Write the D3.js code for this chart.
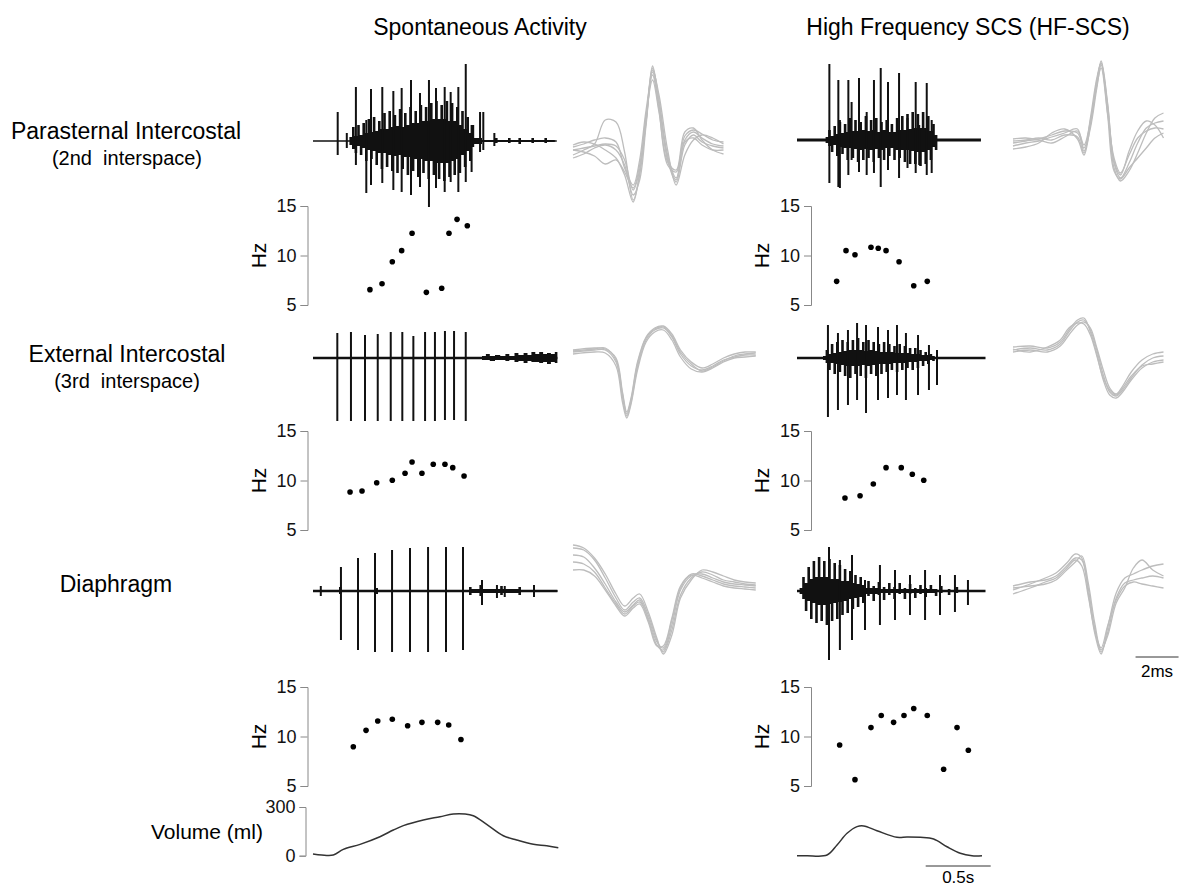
<!DOCTYPE html>
<html>
<head>
<meta charset="utf-8">
<script src="https://cdn.jsdelivr.net/npm/d3@7"></script>
<style>
  body { margin: 0; background: #fff; }
  svg { font-family: "Liberation Sans", Arial, sans-serif; }
</style>
</head>
<body>
<svg id="fig" width="1186" height="888"></svg>
<script>
// ---- data ----
// EMG: time in s, amplitude in a.u. (up / down from baseline)
const psSpontSpikes = [[0.19,29,-14],[0.26,8,-7],[0.33,54,-24],[0.41,21,-52],[0.446,52,-44],[0.533,54,-42],[0.618,50,-49],[0.682,53,-51],[0.754,61,-54],[0.823,48,-46],[0.892,61,-66],[0.946,53,-47],[1.013,54,-51],[1.059,49,-41],[1.118,54,-51],[1.175,77,-41],[1.22,16,-31],[1.285,29,-11],[1.31,29,-9],[1.395,8,-5]];
const psSpontBurst = [[0.28,4,-4],[0.30,14,-8],[0.32,5,-12],[0.34,16,-5],[0.36,6,-14],[0.38,18,-7],[0.40,8,-20],[0.42,22,-9],[0.44,9,-18],[0.46,24,-10],[0.48,10,-24],[0.50,20,-12],[0.52,12,-28],[0.54,28,-12],[0.56,12,-26],[0.58,30,-14],[0.60,14,-30],[0.62,26,-15],[0.64,15,-32],[0.66,32,-14],[0.68,14,-28],[0.70,28,-16],[0.72,16,-34],[0.74,34,-16],[0.76,18,-30],[0.78,30,-18],[0.80,18,-36],[0.82,36,-18],[0.84,20,-32],[0.86,34,-20],[0.88,20,-38],[0.90,38,-20],[0.92,22,-34],[0.94,40,-22],[0.96,22,-38],[0.98,36,-22],[1.00,22,-40],[1.02,40,-22],[1.04,20,-36],[1.06,38,-20],[1.08,20,-34],[1.10,34,-18],[1.12,16,-32],[1.14,30,-14],[1.16,12,-26],[1.18,24,-10],[1.20,8,-20],[1.22,16,-6],[1.24,3,-3],[1.30,1,-1],[1.40,3,-2],[1.42,1,-1],[1.50,3,-2],[1.52,1,-1],[1.58,3,-3],[1.60,1,-1],[1.68,3,-2],[1.70,1,-1],[1.78,3,-2],[1.80,1,-1],[1.86,1,-1]];
const psHfSpikes = [[0.249,76,-43],[0.318,60,-47],[0.33,20,-48],[0.395,60,-35],[0.42,38,-20],[0.477,62,-32],[0.536,28,-35],[0.592,60,-33],[0.644,72,-47],[0.70,58,-30],[0.785,67,-38],[0.85,22,-28],[0.913,58,-33],[0.94,15,-25],[0.998,57,-35],[1.036,20,-33]];
const psHfBurst = [[0.22,3,-3],[0.24,10,-6],[0.26,4,-12],[0.28,14,-5],[0.30,6,-16],[0.32,18,-7],[0.34,7,-14],[0.36,16,-8],[0.38,8,-20],[0.40,22,-8],[0.42,9,-18],[0.44,20,-9],[0.46,9,-22],[0.48,18,-10],[0.50,10,-20],[0.52,24,-9],[0.54,9,-18],[0.56,20,-10],[0.58,10,-22],[0.60,22,-9],[0.62,8,-18],[0.64,18,-10],[0.66,10,-20],[0.68,20,-8],[0.70,8,-16],[0.72,16,-8],[0.74,8,-20],[0.76,22,-10],[0.78,10,-18],[0.80,24,-10],[0.82,10,-22],[0.84,26,-10],[0.86,11,-24],[0.88,28,-11],[0.90,12,-24],[0.92,26,-12],[0.94,12,-26],[0.96,28,-12],[0.98,12,-24],[1.00,24,-10],[1.02,9,-20],[1.04,16,-7],[1.06,5,-10],[1.08,3,-3]];

const eiSpontSpikes = [[0.187,25,-63],[0.292,26,-63],[0.40,23,-63],[0.498,24,-63],[0.598,26,-63],[0.687,26,-63],[0.772,22,-63],[0.862,26,-63],[0.938,26,-63],[1.015,27,-62],[1.085,27,-62],[1.175,26,-63]];
const eiSpontBurst = [[0.02,1,-1],[1.30,2,-2],[1.33,4,-2],[1.36,2,-3],[1.40,3,-2],[1.44,2,-2],[1.48,4,-3],[1.51,2,-2],[1.55,5,-4],[1.58,3,-3],[1.62,5,-5],[1.65,3,-3],[1.68,6,-4],[1.71,4,-4],[1.74,6,-5],[1.77,4,-4],[1.80,5,-6],[1.83,4,-4],[1.86,6,-5],[1.88,2,-2]];
const eiHfSpikes = [[0.238,33,-59],[0.315,25,-52],[0.392,28,-47],[0.462,35,-42],[0.531,33,-55],[0.623,31,-42],[0.70,28,-40],[0.769,33,-37],[0.838,25,-42],[0.931,23,-37],[1.015,13,-32],[1.077,8,-27]];
const eiHfBurst = [[0.20,2,-2],[0.22,8,-5],[0.24,4,-12],[0.26,14,-5],[0.28,5,-16],[0.30,16,-6],[0.32,6,-14],[0.34,18,-7],[0.36,7,-18],[0.38,16,-8],[0.40,8,-20],[0.42,18,-8],[0.44,8,-16],[0.46,20,-8],[0.48,8,-18],[0.50,16,-7],[0.52,7,-20],[0.54,18,-8],[0.56,8,-16],[0.58,16,-7],[0.60,7,-18],[0.62,14,-6],[0.64,6,-16],[0.66,16,-6],[0.68,6,-14],[0.70,14,-6],[0.72,6,-12],[0.74,12,-5],[0.76,5,-14],[0.78,14,-5],[0.80,5,-12],[0.82,12,-5],[0.84,5,-10],[0.86,10,-4],[0.88,4,-12],[0.90,10,-4],[0.92,4,-10],[0.94,8,-3],[0.96,3,-8],[0.98,6,-3],[1.00,3,-6],[1.02,4,-2],[1.04,2,-3],[1.06,2,-2]];

const diSpontSpikes = [[0.06,5,-5],[0.215,24,-49],[0.346,33,-59],[0.477,38,-61],[0.608,41,-61],[0.746,43,-61],[0.885,44,-61],[1.023,44,-61],[1.154,44,-59],[1.30,11,-14],[1.415,6,-7],[1.475,5,-6],[1.70,6,-6]];
const diSpontBurst = [[0.10,1,-1],[0.20,4,-3],[0.22,1,-1],[0.48,3,-3],[0.50,1,-1],[1.20,4,-4],[1.22,2,-2],[1.28,6,-5],[1.30,2,-2],[1.44,5,-4],[1.46,2,-2],[1.58,4,-4],[1.60,1,-1],[1.88,1,-1]];
const diHfSpikes = [[0.246,44,-69],[0.33,31,-59],[0.423,36,-49],[0.523,11,-39],[0.638,26,-34],[0.754,21,-29],[0.869,16,-24],[0.985,21,-29],[1.10,16,-24],[1.215,16,-21],[1.315,11,-14]];
const diHfBurst = [[0.02,3,-3],[0.04,14,-8],[0.06,8,-20],[0.08,24,-10],[0.10,12,-28],[0.12,30,-12],[0.14,14,-32],[0.16,34,-14],[0.18,14,-30],[0.20,30,-14],[0.22,14,-34],[0.24,32,-13],[0.26,12,-30],[0.28,28,-12],[0.30,12,-28],[0.32,26,-11],[0.34,10,-24],[0.36,22,-10],[0.38,10,-22],[0.40,20,-8],[0.42,8,-18],[0.44,16,-7],[0.46,7,-16],[0.48,14,-6],[0.50,6,-12],[0.52,3,-3],[0.54,10,-5],[0.56,3,-3],[0.58,5,-10],[0.60,3,-3],[0.62,9,-4],[0.64,2,-2],[0.66,4,-9],[0.68,2,-2],[0.70,8,-4],[0.72,2,-2],[0.74,4,-8],[0.76,2,-2],[0.78,8,-3],[0.80,2,-2],[0.82,3,-8],[0.84,2,-2],[0.86,7,-3],[0.88,2,-2],[0.90,3,-7],[0.92,2,-2],[0.94,6,-3],[0.96,2,-2],[0.98,3,-6],[1.00,2,-2],[1.02,6,-2],[1.04,2,-2],[1.06,2,-5],[1.08,1,-1],[1.10,5,-2],[1.12,1,-1],[1.16,2,-4],[1.18,1,-1],[1.22,4,-2],[1.24,1,-1],[1.30,1,-1]];

// instantaneous firing frequency (s, Hz)
const psSpontHz = [[0.438,6.55],[0.531,7.15],[0.61,9.37],[0.682,10.49],[0.762,12.24],[0.872,6.28],[0.99,6.69],[1.046,12.24],[1.108,13.65],[1.187,13.0]];
const psHfHz = [[0.305,7.39],[0.377,10.49],[0.446,10.08],[0.569,10.83],[0.625,10.73],[0.685,10.49],[0.785,9.37],[0.898,6.95],[1.002,7.39]];
const eiSpontHz = [[0.285,8.84],[0.377,8.94],[0.49,9.78],[0.61,10.02],[0.708,10.73],[0.762,11.87],[0.838,10.73],[0.925,11.64],[1.015,11.64],[1.075,11.3],[1.162,10.45]];
const eiHfHz = [[0.369,8.23],[0.485,8.46],[0.587,9.65],[0.685,11.3],[0.802,11.3],[0.887,10.63],[0.975,10.02]];
const diSpontHz = [[0.31,8.97],[0.408,10.62],[0.498,11.57],[0.61,11.74],[0.728,11.09],[0.838,11.43],[0.959,11.43],[1.044,11.16],[1.138,9.7]];
const diHfHz = [[0.328,9.14],[0.446,5.64],[0.569,10.9],[0.648,12.12],[0.743,11.43],[0.823,12.12],[0.898,12.83],[1.002,12.12],[1.128,6.69],[1.231,10.9],[1.318,8.61]];

// lung volume (s, ml)
const volSpont = [[0,10],[0.067,4],[0.156,4],[0.233,39],[0.362,70],[0.515,117],[0.618,158],[0.695,185],[0.849,220],[0.977,240],[1.079,257],[1.169,257],[1.233,246],[1.336,193],[1.464,123],[1.567,97],[1.695,70],[1.798,62],[1.887,49]];
const volHf = [[0,0],[0.077,0],[0.231,4],[0.308,66],[0.385,138],[0.462,179],[0.513,183],[0.615,154],[0.769,113],[0.846,115],[0.949,113],[1.051,103],[1.154,55],[1.256,15],[1.346,0],[1.423,0]];

// superimposed motor unit waveforms (ms, a.u.)
const wfPsSpontMs = [0,0.5,1,1.5,2,2.4,2.8,3.1,3.4,3.7,4.0,4.4,4.8,5.2,5.6,6.0,6.5,7.0];
const wfPsSpont = [
  [0,2,4,6,4,-10,-40,-20,30,82,50,-5,-28,10,18,12,6,4],
  [-5,0,6,30,28,-2,-50,-25,28,78,45,-10,-32,5,15,8,4,2],
  [3,6,10,12,8,-18,-35,-10,40,75,40,-15,-22,14,20,16,10,8],
  [-8,-4,2,5,0,-15,-45,-30,25,80,55,0,-35,-5,10,15,12,6],
  [5,8,6,0,-8,-25,-52,-22,35,70,38,-12,-20,18,22,10,0,-4],
  [0,-2,-6,-14,-10,-22,-38,-15,30,84,48,-8,-30,8,12,5,0,0]];
const wfPsHfMs = [0,0.6,1.2,1.8,2.4,3.0,3.3,3.6,3.9,4.1,4.4,4.7,5.0,5.4,5.8,6.2,6.6,7.0];
const wfPsHf = [
  [0,2,4,8,12,10,-5,20,60,82,40,-20,-35,-20,0,15,20,22],
  [-3,0,2,6,10,14,-8,15,55,78,35,-25,-38,-28,-10,10,25,30],
  [2,3,5,3,8,6,-10,25,65,80,30,-15,-30,-12,5,12,15,14],
  [-6,-4,0,10,14,4,-12,18,58,75,28,-28,-36,-25,-15,-5,5,10],
  [4,5,3,0,6,12,-2,22,62,80,38,-18,-32,-8,12,22,18,5]];
const wfEiSpontMs = [0,1,1.5,2.0,2.3,2.5,2.7,3.0,3.4,3.8,4.2,4.6,5.0,5.5,6.0,6.5,7.0,7.5,8.0,8.5];
const wfEiSpont = [
  [0,2,2,-10,-45,-64,-50,-15,12,22,24,15,-2,-14,-18,-14,-8,-5,-3,-3],
  [2,4,3,-6,-40,-60,-46,-10,15,24,26,18,2,-10,-16,-12,-6,-2,0,0],
  [-2,0,-1,-14,-50,-66,-52,-18,10,20,22,12,-5,-17,-20,-16,-10,-6,-5,-4],
  [1,3,4,-8,-42,-62,-48,-12,14,23,25,16,0,-12,-19,-15,-9,-4,-2,-1]];
const wfEiHfMs = [0,0.8,1.6,2.2,2.6,3.0,3.3,3.6,3.9,4.2,4.5,4.8,5.1,5.5,6.0,6.5,7.0];
const wfEiHf = [
  [0,2,0,6,18,28,30,20,0,-25,-42,-46,-40,-28,-15,-8,-6],
  [3,4,2,8,20,30,32,18,-4,-30,-45,-48,-42,-30,-18,-12,-10],
  [-2,0,-2,4,15,25,28,22,2,-20,-38,-44,-36,-22,-10,-4,-2],
  [1,-2,3,10,22,27,26,15,-6,-28,-40,-45,-38,-26,-16,-14,-12]];
const wfDiSpontMs = [0,0.5,1.0,1.5,2.0,2.4,2.8,3.1,3.5,3.9,4.2,4.6,5.0,5.5,6.0,6.5,7.0,7.5,8.0,8.5];
const wfDiSpont = [
  [42,40,30,12,-8,-20,-12,-8,-25,-50,-62,-40,-5,12,18,15,10,8,6,5],
  [35,33,22,6,-12,-22,-15,-10,-30,-55,-60,-35,0,14,16,12,8,6,5,4],
  [28,26,18,2,-14,-24,-16,-12,-28,-52,-58,-30,2,16,14,10,6,4,3,2],
  [45,42,32,16,-4,-16,-8,-4,-22,-48,-64,-45,-8,10,20,18,14,10,8,7],
  [20,20,14,0,-16,-26,-18,-14,-32,-56,-56,-28,4,15,12,8,4,2,1,0]];
const wfDiHfMs = [0,0.8,1.5,2.0,2.5,2.9,3.2,3.5,3.8,4.1,4.4,4.8,5.2,5.6,6.0,6.5,7.0];
const wfDiHf = [
  [-2,4,10,15,25,34,30,0,-40,-64,-45,-10,5,8,10,12,10],
  [2,6,8,12,22,30,28,-5,-45,-66,-40,-5,10,14,18,22,24],
  [-6,0,6,10,20,28,22,-8,-42,-60,-38,-12,2,6,4,2,0],
  [0,2,4,8,18,26,32,5,-35,-62,-48,-15,0,20,28,18,12]];

const hzTicks = [5, 10, 15];
const volTicks = [0, 300];

// ---- layout ----
const svg = d3.select("#fig");
const pxPerSec = 130, pxPerMs = 21.5;
const xL = d3.scaleLinear().domain([0, 1]).range([313, 313 + pxPerSec]);
const xR = d3.scaleLinear().domain([0, 1]).range([797, 797 + pxPerSec]);
const wxL = d3.scaleLinear().domain([0, 1]).range([573, 573 + pxPerMs]);
const wxR = d3.scaleLinear().domain([0, 1]).range([1013, 1013 + pxPerMs]);

function ampScale(base) {
  return d3.scaleLinear().domain([-100, 100]).range([base + 100, base - 100]);
}

function drawEmg(x, base, tEnd, spikes, burst, lw) {
  const y = ampScale(base);
  const g = svg.append("g");
  g.append("line")
    .attr("x1", x(0)).attr("x2", x(tEnd))
    .attr("y1", y(0)).attr("y2", y(0))
    .attr("stroke", "#111").attr("stroke-width", lw);
  g.append("path")
    .datum(burst)
    .attr("d", d3.area()
      .curve(d3.curveStepAfter)
      .x(d => x(d[0]))
      .y0(d => y(d[2]))
      .y1(d => y(d[1])))
    .attr("fill", "#111");
  g.selectAll("line.spk")
    .data(spikes)
    .join("line")
    .attr("class", "spk")
    .attr("x1", d => x(d[0])).attr("x2", d => x(d[0]))
    .attr("y1", d => y(d[1])).attr("y2", d => y(d[2]))
    .attr("stroke", "#111").attr("stroke-width", 2);
}

function drawWaves(x, base, ms, traces) {
  const y = ampScale(base);
  const line = d3.line().x((d, i) => x(ms[i])).y(d => y(d)).curve(d3.curveCatmullRom);
  svg.append("g").selectAll("path")
    .data(traces)
    .join("path")
    .attr("d", line)
    .attr("fill", "none")
    .attr("stroke", "#bdbdbd")
    .attr("stroke-width", 1.3);
}

function styleAxis(ax) {
  ax.select(".domain").attr("stroke", "#888");
  ax.selectAll(".tick line").attr("stroke", "#888");
  ax.selectAll(".tick text").attr("font-size", 18).attr("fill", "#111")
    .attr("font-family", "Liberation Sans, Arial, sans-serif");
}

function drawHz(x, axisX, top, bottom, pts) {
  const y = d3.scaleLinear().domain([5, 15]).range([bottom, top]);
  const ax = svg.append("g")
    .attr("transform", `translate(${axisX},0)`)
    .call(d3.axisLeft(y).tickValues(hzTicks).tickSize(7).tickSizeOuter(7).tickPadding(4));
  styleAxis(ax);
  svg.append("text")
    .attr("transform", `translate(${axisX - 42},${y(10)}) rotate(-90)`)
    .attr("text-anchor", "middle")
    .attr("font-size", 21)
    .text("Hz");
  svg.append("g").selectAll("circle")
    .data(pts)
    .join("circle")
    .attr("cx", d => x(d[0]))
    .attr("cy", d => y(d[1]))
    .attr("r", 2.8)
    .attr("fill", "#000");
}

function drawVolume(x, data, withAxis) {
  const y = d3.scaleLinear().domain([0, 300]).range([855.7, 807]);
  if (withAxis) {
    const ax = svg.append("g")
      .attr("transform", "translate(305.5,0)")
      .call(d3.axisLeft(y).tickValues(volTicks).tickSize(6).tickSizeOuter(6).tickPadding(4));
    styleAxis(ax);
  }
  svg.append("path")
    .datum(data)
    .attr("d", d3.line().x(d => x(d[0])).y(d => y(d[1])).curve(d3.curveCatmullRom))
    .attr("fill", "none")
    .attr("stroke", "#333")
    .attr("stroke-width", 1.5);
}

// titles and row labels
const titles = [["Spontaneous Activity", 480], ["High Frequency SCS (HF-SCS)", 968]];
titles.forEach(t => svg.append("text").attr("x", t[1]).attr("y", 35)
  .attr("text-anchor", "middle").attr("font-size", 23).text(t[0]));
const rowLabels = [["Parasternal Intercostal", 126, 139, 23], ["(2nd  interspace)", 127, 165, 20],
  ["External Intercostal", 127, 362, 23], ["(3rd  interspace)", 127, 388, 20], ["Diaphragm", 116, 592, 23]];
rowLabels.forEach(r => svg.append("text").attr("x", r[1]).attr("y", r[2])
  .attr("text-anchor", "middle").attr("font-size", r[3]).attr("xml:space", "preserve").text(r[0]));

// row 1: parasternal
drawEmg(xL, 141, 1.875, psSpontSpikes, psSpontBurst, 1.6);
drawEmg(xR, 140, 1.415, psHfSpikes, psHfBurst, 3);
drawWaves(wxL, 150, wfPsSpontMs, wfPsSpont);
drawWaves(wxR, 143, wfPsHfMs, wfPsHf);
drawHz(xL, 307.5, 206, 305, psSpontHz);
drawHz(xR, 811, 206, 305, psHfHz);

// row 2: external intercostal
drawEmg(xL, 358, 1.88, eiSpontSpikes, eiSpontBurst, 2.4);
drawEmg(xR, 358, 1.45, eiHfSpikes, eiHfBurst, 2.4);
drawWaves(wxL, 352, wfEiSpontMs, wfEiSpont);
drawWaves(wxR, 350, wfEiHfMs, wfEiHf);
drawHz(xL, 307.5, 431, 530, eiSpontHz);
drawHz(xR, 811, 431, 530, eiHfHz);

// row 3: diaphragm
drawEmg(xL, 591, 1.88, diSpontSpikes, diSpontBurst, 2.4);
drawEmg(xR, 591, 1.45, diHfSpikes, diHfBurst, 2.4);
drawWaves(wxL, 590, wfDiSpontMs, wfDiSpont);
drawWaves(wxR, 588, wfDiHfMs, wfDiHf);
drawHz(xL, 307.5, 687, 786, diSpontHz);
drawHz(xR, 811, 687, 786, diHfHz);

// volume
drawVolume(xL, volSpont, true);
drawVolume(xR, volHf, false);
svg.append("text").attr("x", 263).attr("y", 839).attr("text-anchor", "end")
  .attr("font-size", 21).text("Volume (ml)");

// scale bars
svg.append("line").attr("x1", wxR(5.7)).attr("x2", wxR(7.7)).attr("y1", 657).attr("y2", 657)
  .attr("stroke", "#333").attr("stroke-width", 1);
svg.append("text").attr("x", wxR(6.7)).attr("y", 677).attr("text-anchor", "middle")
  .attr("font-size", 17).text("2ms");
svg.append("line").attr("x1", xR(0.99)).attr("x2", xR(1.49)).attr("y1", 866).attr("y2", 866)
  .attr("stroke", "#333").attr("stroke-width", 1);
svg.append("text").attr("x", xR(1.24)).attr("y", 883).attr("text-anchor", "middle")
  .attr("font-size", 17).text("0.5s");
</script>
</body>
</html>
